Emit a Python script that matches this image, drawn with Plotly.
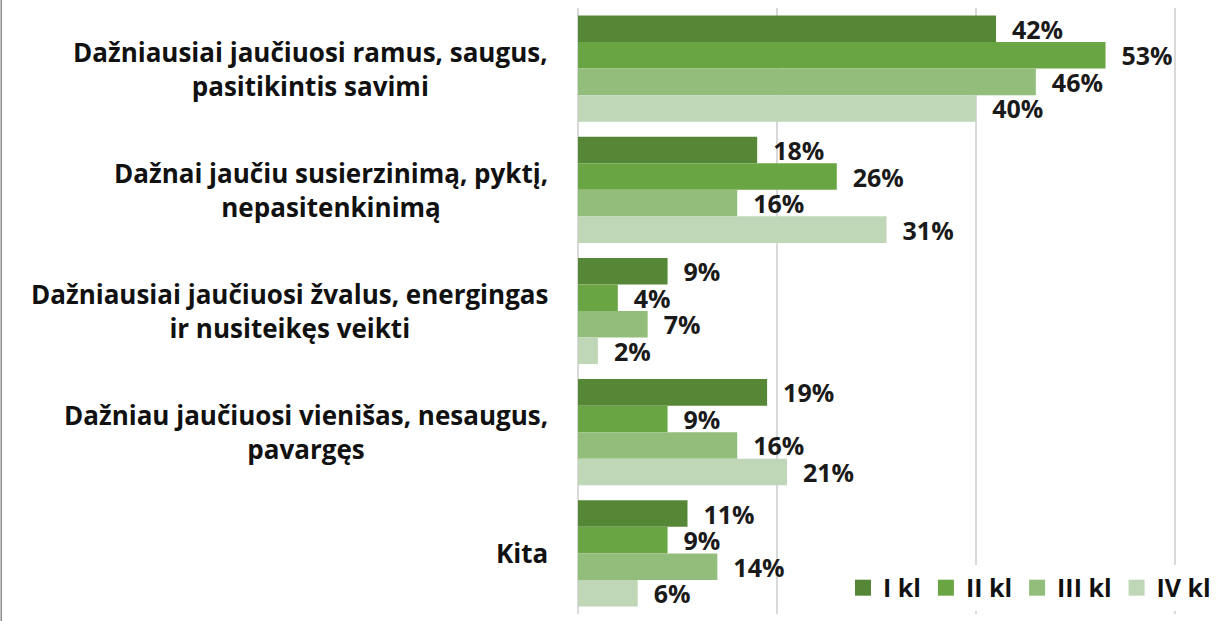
import plotly.graph_objects as go

categories = [
    "Dažniausiai jaučiuosi ramus, saugus,<br>pasitikintis savimi",
    "Dažnai jaučiu susierzinimą, pyktį,<br>nepasitenkinimą",
    "Dažniausiai jaučiuosi žvalus, energingas<br>ir nusiteikęs veikti",
    "Dažniau jaučiuosi vienišas, nesaugus,<br>pavargęs",
    "Kita",
]
cat_ids = ["c1", "c2", "c3", "c4", "c5"]
series_names = ["I kl", "II kl", "III kl", "IV kl"]
values_I = [42, 18, 9, 19, 11]
values_II = [53, 26, 4, 9, 9]
values_III = [46, 16, 7, 16, 14]
values_IV = [40, 31, 2, 21, 6]
colors = ["#568737", "#6aa544", "#93bd7b", "#bfd7b6"]

FONT = "Open Sans"

fig = go.Figure()
for name, vals, col in zip(series_names, [values_I, values_II, values_III, values_IV], colors):
    fig.add_trace(go.Bar(
        y=cat_ids, x=vals, name=name, orientation="h", showlegend=False,
        marker=dict(color=col, line=dict(width=0)),
        text=[f"\u00a0\u00a0{v}%" for v in vals],
        textposition="outside", cliponaxis=False, constraintext="none",
        textfont=dict(family=FONT, size=25, color="#1a1a1a", weight="bold"),
    ))

# legend entries with larger square swatches
for name, col in zip(series_names, colors):
    fig.add_trace(go.Scatter(
        x=[None], y=[None], mode="markers", name=name, showlegend=True,
        marker=dict(symbol="square", size=18, color=col),
    ))

for cid, label in zip(cat_ids, categories):
    fig.add_annotation(
        xref="paper", yref="y", x=0, y=cid, xanchor="right", yanchor="middle",
        xshift=-28, text=f"<b>{label}</b>", showarrow=False, align="center",
        font=dict(family=FONT, size=26, color="#111111"),
    )

fig.add_shape(type="line", xref="paper", yref="paper", x0=-0.904, x1=-0.904,
              y0=-0.02, y1=1.02, line=dict(color="#8a8a8a", width=1.5))

fig.update_layout(
    width=1216, height=621,
    margin=dict(l=578, r=0, t=8, b=7),
    barmode="group", bargap=0.124, bargroupgap=0,
    plot_bgcolor="white", paper_bgcolor="white",
    showlegend=True,
    legend=dict(orientation="h", x=1.0, xanchor="right", y=0.043, yanchor="middle",
                bgcolor="white", font=dict(family=FONT, size=25, color="#111111", weight="bold"),
                itemwidth=30, tracegroupgap=0),
    xaxis=dict(range=[0, 64.1], showticklabels=False, showgrid=True, gridcolor="#d9d9d9",
               gridwidth=1.5, dtick=20, zeroline=True, zerolinecolor="#d9d9d9", zerolinewidth=1.5,
               showline=False, fixedrange=True),
    yaxis=dict(autorange="reversed", showticklabels=False, showgrid=False, showline=False,
               categoryorder="array", categoryarray=cat_ids, fixedrange=True),
)

fig.write_html("out.html", config={"displayModeBar": False},
               post_script="document.body.style.margin='0';document.body.style.overflow='hidden';")
